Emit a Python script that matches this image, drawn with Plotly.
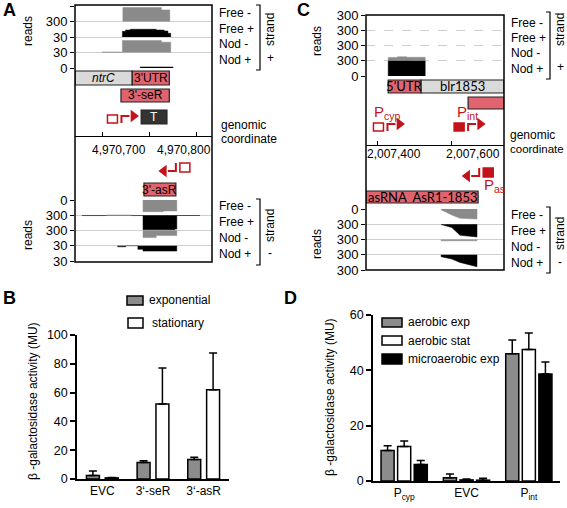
import plotly.graph_objects as go

W, H = 567, 508
def X(px): return px / W
def Y(py): return 1 - py / H

FONT = "Liberation Sans, Arial, sans-serif"
GENE_FONT = "Lato, Liberation Sans, sans-serif"
RED_BOX = "#e0646f"
RED = "#c4121a"
GRAY_BOX = "#dadada"
COV_GRAY = "#8a8a8a"
COV_BLACK = "#000000"
GRID = "#cfcfcf"
BAR_GRAY = "#8c8c8c"

# ======================= DATA =======================
track_names = ["Free -", "Free +", "Nod -", "Nod +"]

# ---- Panel A ----
A_xrange = [4970642, 4970934]
A_xticks = [4970700, 4970800, 4970900]
A_xticktext = ["4,970,700", "4,970,800"]
A_plus_scale = [300, 300, 30, 30]
A_minus_scale = [300, 300, 30, 30]
A_plus_ticktext = ["0", "30", "30", "300", "300"]      # bottom -> top
A_minus_ticktext = ["0", "300", "300", "30", "30"]     # top -> bottom
A_plus_edges = [
    [4970744, 4970826, 4970844],
    [4970743, 4970750, 4970760, 4970815, 4970832, 4970840, 4970846],
    [4970700, 4970743, 4970826, 4970846],
    [4970781, 4970851],
]
A_plus_reads = [
    [270, 225],
    [110, 135, 150, 135, 116, 72],
    [1, 23, 20],
    [2],
]
A_minus_edges = [
    [4970787, 4970830, 4970859],
    [4970657, 4970708, 4970763, 4970787, 4970855, 4970859, 4970908],
    [4970787, 4970815, 4970859],
    [4970733, 4970750, 4970776, 4970787, 4970859],
]
A_minus_reads = [
    [230, 215],
    [6, 0, 6, 285, 270, 5],
    [14, 10],
    [2, 0, 7, 10.5],
]
A_feat_names = ["<i>ntrC</i>", "3'UTR", "3'-seR", "T", "3'-asR"]
A_feat_start = [4970642, 4970764, 4970740, 4970783, 4970789]
A_feat_end = [4970764, 4970843, 4970843, 4970838, 4970857]
A_prom_tss = [4970741, 4970857]
A_prom_strand = ["+", "-"]
A_prom_filled = [False, False]

# ---- Panel C ----
C_xrange = [2007370, 2007743]
C_xticks = [2007400, 2007600]
C_xticktext = ["2,007,400", "2,007,600"]
C_plus_scale = [300, 300, 300, 300]
C_minus_scale = [300, 300, 300, 300]
C_plus_ticktext = ["0", "300", "300", "300", "300"]
C_minus_ticktext = ["0", "300", "300", "300", "300"]
C_plus_edges = [
    [],
    [],
    [2007430, 2007455, 2007480, 2007530],
    [2007430, 2007530],
]
C_plus_reads = [
    [],
    [],
    [65, 78, 68],
    [295],
]
C_minus_x = [
    [2007573, 2007602, 2007624, 2007670],
    [2007573, 2007602, 2007616, 2007624, 2007670],
    [2007573, 2007670],
    [2007573, 2007602, 2007624, 2007670],
]
C_minus_reads = [
    [15, 118, 183, 197],
    [5, 65, 163, 216, 250],
    [25, 25],
    [39, 85, 150, 236],
]
C_feat_names = ["5\u2019UTR", "blr1853", "", "asRNA  AsR1-1853"]
C_feat_start = [2007430, 2007519, 2007646, 2007370]
C_feat_end = [2007519, 2007743, 2007743, 2007673]
C_prom_tss = [2007428, 2007646, 2007676]
C_prom_strand = ["+", "+", "-"]
C_prom_filled = [False, True, True]
C_prom_labels = ["P<sub>cyp</sub>", "P<sub>int</sub>", "P<sub>as</sub>"]

# ---- Panel B ----
B_categories = ["EVC", "3\u2018-seR", "3\u2018-asR"]
B_exponential = [2.5, 11.5, 13.5]
B_exponential_err = [3.0, 1.2, 1.6]
B_stationary = [0.8, 52.0, 62.0]
B_stationary_err = [0.3, 25.0, 25.5]

# ---- Panel D ----
D_categories = ["P<sub>cyp</sub>", "EVC", "P<sub>int</sub>"]
D_aerobic_exp = [11.0, 1.2, 46.0]
D_aerobic_exp_err = [1.7, 1.3, 5.0]
D_aerobic_stat = [12.5, 0.4, 47.5]
D_aerobic_stat_err = [2.0, 0.3, 6.0]
D_micro_exp = [6.0, 0.3, 38.7]
D_micro_exp_err = [1.4, 0.7, 4.3]

# ======================= STYLE / LAYOUT POSITIONS =======================
A_frame = (75, 5, 212, 262)
C_frame = (366, 15, 504, 270)
A_axis_row, C_axis_row = 136, 145
A_ticklabel_px = [(119, 150), (184, 150)]
C_ticklabel_px = [(394, 154), (473, 154)]
A_feat_rows = [(71, 85), (71, 85), (89, 102), (110, 124), (183, 196)]
A_feat_fill = [GRAY_BOX, RED_BOX, RED_BOX, "#333333", RED_BOX]
A_feat_tcolor = ["black", "black", "black", "white", "black"]
A_prom_row = [123, 163]
C_feat_rows = [(80, 93), (80, 93), (97, 109), (191, 203)]
C_feat_fill = [RED_BOX, GRAY_BOX, RED_BOX, RED_BOX]
C_prom_row = [131, 131, 168]
C_label_off = [(-15, -18), (-13, -18), (3, 18)]

fig = go.Figure()
shapes = []
annotations = []

def ann(text, px, py, size=12, xanchor="center", yanchor="middle", angle=0,
        color="black", bold=False, family=FONT, xref="paper", yref="paper"):
    if xref == "paper":
        px = X(px)
    if yref == "paper":
        py = Y(py)
    annotations.append(dict(
        text=("<b>%s</b>" % text) if bold else text, x=px, y=py, xref=xref, yref=yref,
        xanchor=xanchor, yanchor=yanchor, showarrow=False, textangle=angle,
        font=dict(size=size, color=color, family=family)))

def step_poly(edges, vals, base, scale):
    xs, ys = [edges[0]], [base]
    for i, v in enumerate(vals):
        yv = base + v / scale
        xs += [edges[i], edges[i + 1]]
        ys += [yv, yv]
    xs.append(edges[-1]); ys.append(base)
    return xs, ys

def lin_poly(xp, vals, base, scale):
    xs = [xp[0]] + list(xp) + [xp[-1]]
    ys = [base] + [base + v / scale for v in vals] + [base]
    return xs, ys

def cov_trace(xs, ys, color, xa, ya):
    fig.add_trace(go.Scatter(x=xs, y=ys, fill="toself", fillcolor=color, mode="lines",
                             line=dict(color=color, width=0.5), xaxis=xa, yaxis=ya,
                             showlegend=False, hoverinfo="skip"))

cov_colors = [COV_GRAY, COV_BLACK, COV_GRAY, COV_BLACK]

for i in range(4):
    xs, ys = step_poly(A_plus_edges[i], A_plus_reads[i], 3 - i, A_plus_scale[i])
    cov_trace(xs, ys, cov_colors[i], "x", "y")
    xs, ys = step_poly(A_minus_edges[i], A_minus_reads[i], i, A_minus_scale[i])
    cov_trace(xs, ys, cov_colors[i], "x", "y2")

for i in range(4):
    if C_plus_edges[i]:
        xs, ys = step_poly(C_plus_edges[i], C_plus_reads[i], 3 - i, C_plus_scale[i])
        cov_trace(xs, ys, cov_colors[i], "x2", "y4")
    xs, ys = lin_poly(C_minus_x[i], C_minus_reads[i], i, C_minus_scale[i])
    cov_trace(xs, ys, cov_colors[i], "x2", "y5")

def features(names, starts, ends, rows, fills, tcolors, xref, yref, family, size):
    for n, s, e, (r0, r1), f, tc in zip(names, starts, ends, rows, fills, tcolors):
        shapes.append(dict(type="rect", xref=xref, yref=yref, x0=s, x1=e, y0=r0, y1=r1,
                           fillcolor=f, line=dict(color="#222222", width=1.2), layer="above"))
        if n:
            ann(n, (s + e) / 2, (r0 + r1) / 2, size=size, color=tc, family=family,
                xref=xref, yref=yref)

features(A_feat_names, A_feat_start, A_feat_end, A_feat_rows, A_feat_fill, A_feat_tcolor,
         "x", "y3", FONT, 12)
features(C_feat_names, C_feat_start, C_feat_end, C_feat_rows, C_feat_fill,
         ["black"] * 4, "x2", "y6", GENE_FONT, 13)

def promoter(tss, strand, filled, row, bpp, xa, ya):
    if strand == "+":
        sq = (tss - 14 * bpp, tss - 4 * bpp, row - 8, row)
        ax = [tss, tss, tss + 8 * bpp]; ay = [row, row - 7, row - 7]
        tx, ty, sym = tss + 12 * bpp, row - 7, "triangle-right"
    else:
        sq = (tss + 4 * bpp, tss + 14 * bpp, row, row + 9)
        ax = [tss, tss, tss - 8 * bpp]; ay = [row, row + 8, row + 8]
        tx, ty, sym = tss - 12 * bpp, row + 8, "triangle-left"
    shapes.append(dict(type="rect", xref=xa, yref=ya, x0=sq[0], x1=sq[1],
                       y0=sq[2], y1=sq[3], fillcolor=RED if filled else "white",
                       line=dict(color=RED, width=1.5), layer="above"))
    fig.add_trace(go.Scatter(x=ax, y=ay, mode="lines", line=dict(color=RED, width=2),
                             xaxis=xa, yaxis=ya, showlegend=False, hoverinfo="skip"))
    fig.add_trace(go.Scatter(x=[tx], y=[ty], mode="markers",
                             marker=dict(symbol=sym, size=11, color=RED),
                             xaxis=xa, yaxis=ya, showlegend=False, hoverinfo="skip"))

bppA = (A_xrange[1] - A_xrange[0]) / (A_frame[2] - A_frame[0])
bppC = (C_xrange[1] - C_xrange[0]) / (C_frame[2] - C_frame[0])
for t, s, f, r in zip(A_prom_tss, A_prom_strand, A_prom_filled, A_prom_row):
    promoter(t, s, f, r, bppA, "x", "y3")
for t, s, f, r, lab, (dx, dy) in zip(C_prom_tss, C_prom_strand, C_prom_filled, C_prom_row,
                                      C_prom_labels, C_label_off):
    promoter(t, s, f, r, bppC, "x2", "y6")
    ann(lab, t + dx * bppC, r + dy, size=15, color=RED, xanchor="left", xref="x2", yref="y6")

xb = list(range(len(B_categories)))
def bar(xv, vals, err, color, width, offset, xa, ya):
    fig.add_trace(go.Bar(x=xv, y=vals, width=width, offset=offset,
                         marker=dict(color=color, line=dict(color="black", width=1.5)),
                         error_y=dict(type="data", symmetric=False, array=err,
                                      arrayminus=[0] * len(err), color="black",
                                      thickness=1.5, width=4),
                         xaxis=xa, yaxis=ya, showlegend=False, hoverinfo="skip"))

bar(xb, B_exponential, B_exponential_err, BAR_GRAY, 0.255, -0.3135, "x3", "y7")
bar(xb, B_stationary, B_stationary_err, "white", 0.255, 0.0585, "x3", "y7")

xd = list(range(len(D_categories)))
bar(xd, D_aerobic_exp, D_aerobic_exp_err, BAR_GRAY, 0.21, -0.371, "x4", "y8")
bar(xd, D_aerobic_stat, D_aerobic_stat_err, "white", 0.21, -0.105, "x4", "y8")
bar(xd, D_micro_exp, D_micro_exp_err, "black", 0.21, 0.161, "x4", "y8")

def genome_x(frame, rng, ticks, pos_row):
    return dict(domain=[X(frame[0]), X(frame[2])], range=rng, anchor="free",
                position=Y(pos_row), tickvals=ticks, showticklabels=False, ticks="inside",
                ticklen=4, tickcolor="black", showline=True, linecolor="black", linewidth=1,
                showgrid=False, zeroline=False)

def track_y(r0, r1, rng, text, xa, dash="solid"):
    return dict(domain=[Y(r1), Y(r0)], range=rng, anchor=xa, tickvals=[0, 1, 2, 3, 4],
                ticktext=text, ticks="outside", ticklen=4, tickcolor="black",
                showline=False, showgrid=True, gridcolor=GRID, griddash=dash, gridwidth=1,
                zeroline=False, tickfont=dict(size=13, family=FONT))

def hidden_y(frame, xa):
    return dict(domain=[Y(frame[3]), Y(frame[1])], range=[frame[3], frame[1]], anchor=xa,
                visible=False)

def bar_x(l, r, cats, ya):
    return dict(domain=[X(l), X(r)], range=[-0.5, 2.5], anchor=ya, tickvals=list(range(len(cats))),
                ticktext=cats, ticks="", showline=True, linecolor="black", linewidth=1.5,
                showgrid=False, zeroline=False, tickfont=dict(size=12, family=FONT), tickangle=0)

def bar_y(top, bot, rmax, xa):
    return dict(domain=[Y(bot), Y(top)], range=[0, rmax], dtick=20, anchor=xa, ticks="outside",
                ticklen=5, tickwidth=1.5, tickcolor="black", showline=True, linecolor="black",
                linewidth=1.5, showgrid=False, zeroline=False, tickfont=dict(size=12.5, family=FONT))

layout = dict(
    width=W, height=H, autosize=False, margin=dict(l=0, r=0, t=0, b=0, pad=0, autoexpand=False),
    paper_bgcolor="white", plot_bgcolor="rgba(0,0,0,0)", barmode="overlay",
    font=dict(family=FONT, size=12, color="black"),
    xaxis=genome_x(A_frame, A_xrange, A_xticks, A_axis_row),
    xaxis2=genome_x(C_frame, C_xrange, C_xticks, C_axis_row),
    xaxis3=bar_x(77, 229, B_categories, "y7"),
    xaxis4=bar_x(373, 560, D_categories, "y8"),
    yaxis=track_y(6, 68, [0, 4], A_plus_ticktext, "x"),
    yaxis2=track_y(200, 261, [4, 0], A_minus_ticktext, "x"),
    yaxis3=hidden_y(A_frame, "x"),
    yaxis4=track_y(15, 76, [0, 4], C_plus_ticktext, "x2", dash="dash"),
    yaxis5=track_y(209, 270, [4, 0], C_minus_ticktext, "x2"),
    yaxis6=hidden_y(C_frame, "x2"),
    yaxis7=bar_y(335, 479, 100, "x3"),
    yaxis8=bar_y(315, 481, 60, "x4"),
)

# genomic coordinate tick labels (drawn offset to the right of their ticks, as in the figure)
for t, (px, py) in zip(A_xticktext, A_ticklabel_px):
    ann(t, px, py)
for t, (px, py) in zip(C_xticktext, C_ticklabel_px):
    ann(t, px, py)

for fr in (A_frame, C_frame):
    shapes.append(dict(type="rect", xref="paper", yref="paper", x0=X(fr[0]), x1=X(fr[2]),
                       y0=Y(fr[3]), y1=Y(fr[1]), line=dict(color="black", width=1.5),
                       fillcolor="rgba(0,0,0,0)", layer="above"))

def track_labels(xl, rows):
    for n, r in zip(track_names, rows):
        ann(n, xl, r, xanchor="left")

def bracket(xb_, r0, r1, sign, rows_txt):
    shapes.append(dict(type="path", xref="paper", yref="paper",
                       path="M %f %f L %f %f L %f %f L %f %f" % (
                           X(xb_ - 4), Y(r0), X(xb_), Y(r0), X(xb_), Y(r1), X(xb_ - 4), Y(r1)),
                       line=dict(color="black", width=1.2)))
    ann("strand", xb_ + 10, rows_txt[0], angle=-90)
    ann(sign, xb_ + 10, rows_txt[1])

track_labels(217, [13, 29, 44, 60])
track_labels(217, [206, 222, 238, 254])
track_labels(509, [23, 38, 53, 69])
track_labels(509, [215, 231, 247, 263])
bracket(260, 5, 70, "+", (30, 58))
bracket(260, 199, 265, "-", (226, 253))
bracket(550, 12, 79, "+", (30, 67))
bracket(550, 207, 273, "-", (234, 262))

ann("reads", 28, 31, angle=-90)
ann("reads", 28, 235, angle=-90)
ann("reads", 317, 41, angle=-90)
ann("reads", 317, 244, angle=-90)
ann("genomic", 219, 125, xanchor="left")
ann("coordinate", 219, 139, xanchor="left")
ann("genomic", 508, 135, xanchor="left")
ann("coordinate", 508, 149, xanchor="left", size=11.5)

ann("A", 9, 10, size=18, bold=True)
ann("C", 303, 10, size=18, bold=True)
ann("B", 9, 298, size=18, bold=True)
ann("D", 290, 298, size=18, bold=True)

ann("\u03b2 -galactosidase activity (MU)", 33, 401, angle=-90)
ann("\u03b2 -galactosidase activity (MU)", 330, 397, angle=-90)

def legend_item(x0, x1, r0, r1, color, text, tx, ty):
    shapes.append(dict(type="rect", xref="paper", yref="paper", x0=X(x0), x1=X(x1),
                       y0=Y(r1), y1=Y(r0), fillcolor=color, line=dict(color="black", width=1.5)))
    ann(text, tx, ty, xanchor="left")

legend_item(127, 143, 296, 305, BAR_GRAY, "exponential", 147, 300)
legend_item(128, 143, 318, 328, "white", "stationary", 150, 323)
legend_item(382, 402, 318, 327, BAR_GRAY, "aerobic exp", 406, 322)
legend_item(382, 402, 336, 345, "white", "aerobic stat", 406, 341)
legend_item(382, 402, 354, 364, "black", "microaerobic exp", 406, 359)

layout["shapes"] = shapes
layout["annotations"] = annotations
fig.update_layout(**layout)

fig.write_html("out.html", config={"displayModeBar": False},
               post_script="document.body.style.margin='0';")
